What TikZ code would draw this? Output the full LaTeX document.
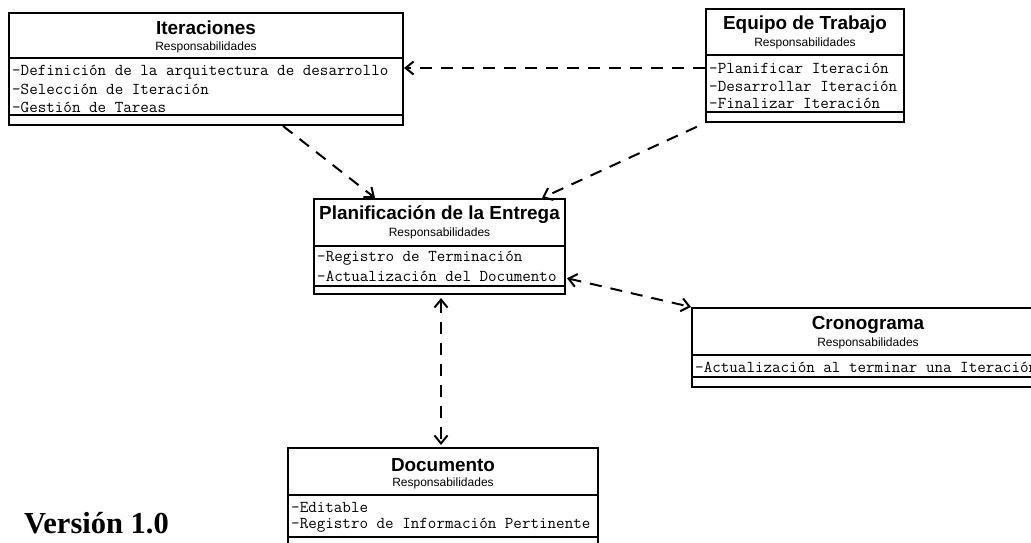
\documentclass[tikz,border=0pt]{standalone}
\usepackage{fontspec}
\setmainfont{Liberation Serif}
\setsansfont{Liberation Sans}
\usetikzlibrary{arrows.meta,calc}
\begin{document}
\begin{tikzpicture}[x=1pt,y=-1pt,
  classbox/.style={draw=black, line width=2pt, fill=white, inner sep=0pt},
  divider/.style={draw=black, line width=2pt},
  classtitle/.style={font=\sffamily\bfseries\fontsize{18.9}{20}\selectfont, inner sep=0pt},
  classresp/.style={font=\sffamily\fontsize{12}{14}\selectfont, inner sep=0pt},
  classattr/.style={font=\ttfamily\fontsize{16.6}{18}\selectfont, anchor=west, inner sep=0pt},
  barb/.tip={Straight Barb[length=8pt,width=13pt]},
  dep/.style={line width=2pt, dash pattern=on 12pt off 9pt, -barb},
  depboth/.style={dep, barb-barb},
]
\useasboundingbox (0,0) rectangle (1031,542);
\fill[white] (0,0) rectangle (1031,542);
\clip (0,0) rectangle (1031,542);

% Iteraciones
\node[classbox, minimum width=394, minimum height=112] (iter) at (206,69) {};
\draw[divider] (iter.west |- 0,58) -- (iter.east |- 0,58);
\draw[divider] (iter.west |- 0,115) -- (iter.east |- 0,115);
\node[classtitle] (iter-t) at (206,28) {Iteraciones};
\node[classresp] (iter-r) at (206,47) {Responsabilidades};
\node[classattr] (iter-a1) at (12,72) {-Definición de la arquitectura de desarrollo};
\node[classattr] (iter-a2) at (12,89) {-Selección de Iteración};
\node[classattr] (iter-a3) at (12,107) {-Gestión de Tareas};

% Equipo de Trabajo
\node[classbox, minimum width=198, minimum height=113] (equipo) at (805,65.5) {};
\draw[divider] (equipo.west |- 0,55) -- (equipo.east |- 0,55);
\draw[divider] (equipo.west |- 0,112) -- (equipo.east |- 0,112);
\node[classtitle] (equipo-t) at (805,25) {Equipo de Trabajo};
\node[classresp] (equipo-r) at (805,43) {Responsabilidades};
\node[classattr] (equipo-a1) at (709,68) {-Planificar Iteración};
\node[classattr] (equipo-a2) at (709,86) {-Desarrollar Iteración};
\node[classattr] (equipo-a3) at (709,103) {-Finalizar Iteración};

% Planificacion de la Entrega
\node[classbox, minimum width=251, minimum height=95] (plan) at (439.5,246.5) {};
\draw[divider] (plan.west |- 0,246) -- (plan.east |- 0,246);
\draw[divider] (plan.west |- 0,286) -- (plan.east |- 0,286);
\node[classtitle] (plan-t) at (439.5,215) {Planificación de la Entrega};
\node[classresp] (plan-r) at (439.5,233) {Responsabilidades};
\node[classattr] (plan-a1) at (317,258) {-Registro de Terminación};
\node[classattr] (plan-a2) at (317,276) {-Actualización del Documento};

% Cronograma
\node[classbox, minimum width=352, minimum height=79] (crono) at (868,347.5) {};
\draw[divider] (crono.west |- 0,355) -- (crono.east |- 0,355);
\draw[divider] (crono.west |- 0,377) -- (crono.east |- 0,377);
\node[classtitle] (crono-t) at (868,325) {Cronograma};
\node[classresp] (crono-r) at (868,343) {Responsabilidades};
\node[classattr] (crono-a1) at (695,367) {-Actualización al terminar una Iteración};

% Documento
\node[classbox, minimum width=310, minimum height=102] (doc) at (443,499) {};
\draw[divider] (doc.west |- 0,495) -- (doc.east |- 0,495);
\draw[divider] (doc.west |- 0,537) -- (doc.east |- 0,537);
\node[classtitle] (doc-t) at (443,465) {Documento};
\node[classresp] (doc-r) at (443,483) {Responsabilidades};
\node[classattr] (doc-a1) at (291,507) {-Editable};
\node[classattr] (doc-a2) at (291,525) {-Registro de Información Pertinente};

% Dependencies
\draw[dep] (equipo.west |- 0,68) -- (iter.east |- 0,68);
\draw[dep] (283,0 |- iter.south) -- (375,0 |- plan.north);
\draw[dep, shorten <=9pt] (equipo.south west) -- (542,0 |- plan.north);
\draw[depboth, shorten <=1pt] (plan.east |- 0,278) -- (crono.north west);
\draw[depboth, shorten <=3pt, shorten >=2pt] (441,0 |- plan.south) -- (441,0 |- doc.north);

% Version label
\node[anchor=base west, font=\rmfamily\bfseries\fontsize{30.5}{34}\selectfont, inner sep=0pt] (version) at (24,533) {Versión 1.0};
\end{tikzpicture}
\end{document}
